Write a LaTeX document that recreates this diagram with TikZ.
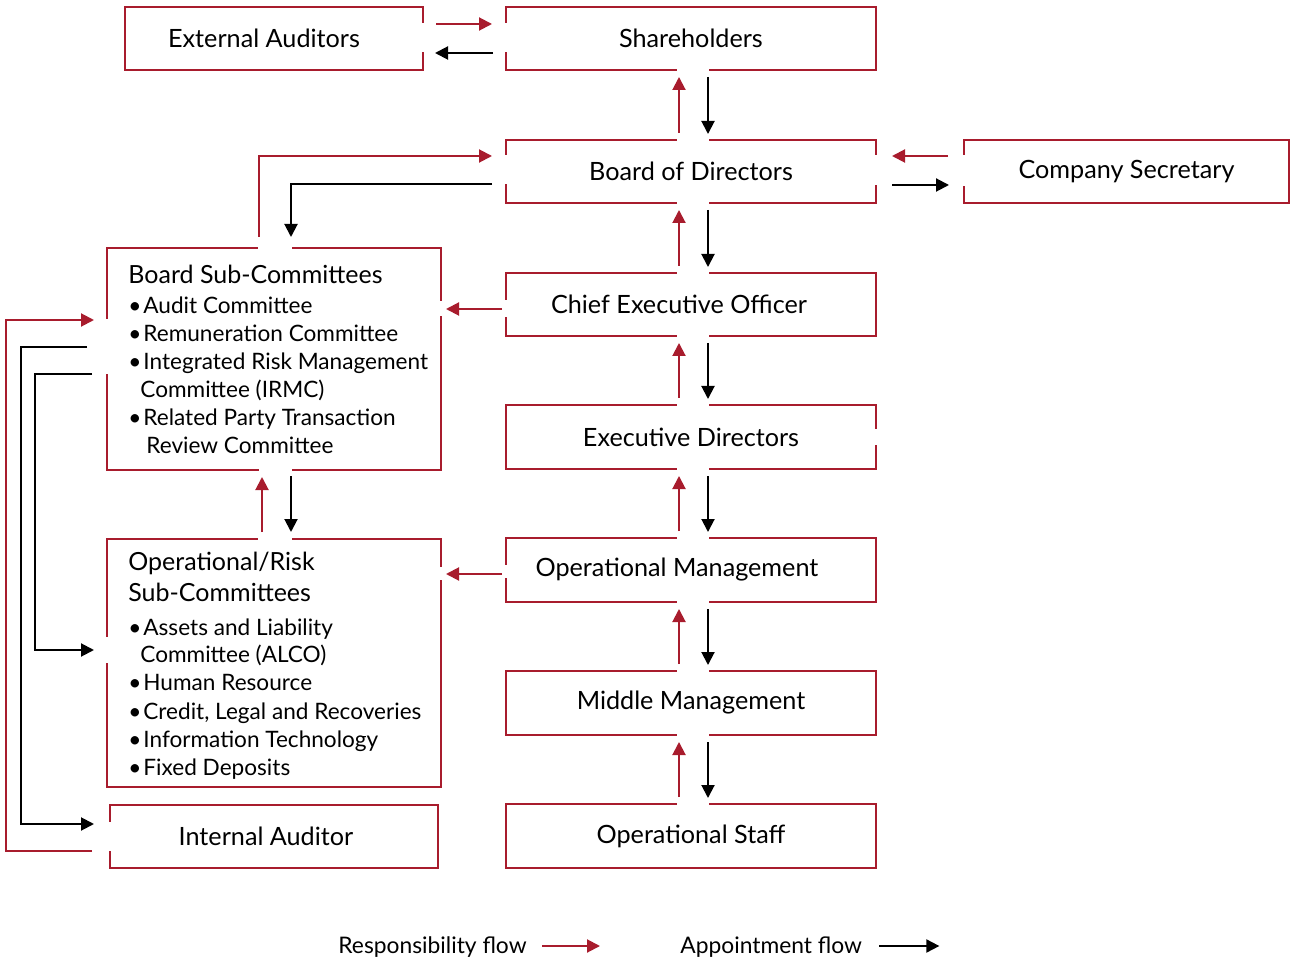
\documentclass[tikz,border=0pt]{standalone}
\usepackage{fontspec}
\setmainfont{Lato}
\usetikzlibrary{arrows.meta,calc}
\definecolor{rred}{RGB}{168,28,45}
\newcommand\mybullet{\makebox[7.5pt][l]{•}}
\begin{document}
\begin{tikzpicture}[x=0.5pt,y=-0.5pt,
  lab/.style={font=\fontsize{12.6}{14}\selectfont, inner sep=0pt},
  lst/.style={font=\fontsize{11.3}{14}\selectfont, inner sep=0pt, anchor=base west},
  ttl/.style={font=\fontsize{12.5}{14}\selectfont, inner sep=0pt, anchor=base west},
  box/.style={draw=rred, line width=1pt, inner sep=0pt, font=\fontsize{12.6}{14}\selectfont, text=black},
  resp/.style={draw=rred, line width=1pt, -{Triangle[length=6.5pt,width=6.5pt]}},
  appt/.style={draw=black, line width=1pt, -{Triangle[length=6.5pt,width=6.5pt]}},
  leg/.style={inner sep=0pt, font=\fontsize{11.4}{13}\selectfont},
  gap/.style={fill=white}]
\useasboundingbox (0,0) rectangle (1290,962);
% boxes
\node[box, minimum width=149pt, minimum height=31.5pt, label={[lab, xshift=-5pt]center:External Auditors}] (ext) at (274,38.5) {};
\node[box, minimum width=185pt, minimum height=31.5pt] (sh) at (691,38.5) {Shareholders};
\node[box, minimum width=185pt, minimum height=31.5pt] (bod) at (691,171.5) {Board of Directors};
\node[box, minimum width=162.5pt, minimum height=31.5pt] (cs) at (1126.5,171.5) {Company Secretary};
\node[box, minimum width=185pt, minimum height=31.5pt, label={[lab, xshift=-6pt]center:Chief Executive Officer}] (ceo) at (691,304.5) {};
\node[box, minimum width=185pt, minimum height=32pt] (ed) at (691,437) {Executive Directors};
\node[box, minimum width=185pt, minimum height=32pt, label={[lab, xshift=-7pt]center:Operational Management}] (om) at (691,570) {};
\node[box, minimum width=185pt, minimum height=32pt] (mm) at (691,703) {Middle Management};
\node[box, minimum width=185pt, minimum height=32pt] (os) at (691,836) {Operational Staff};
\node[box, minimum width=167pt, minimum height=111pt] (bsc) at (274,359) {};
\node[box, minimum width=167pt, minimum height=124pt] (ors) at (274,663) {};
\node[box, minimum width=164pt, minimum height=31.5pt, label={[lab, xshift=-4pt]center:Internal Auditor}] (ia) at (274,836) {};
% list texts
\node[ttl] (b1) at (128,284) {Board Sub-Committees};
\node[lst] (b2) at (128,313.3) {\mybullet Audit Committee};
\node[lst] (b3) at (128,341.5) {\mybullet Remuneration Committee};
\node[lst] (b4) at (128,369.5) {\mybullet Integrated Risk Management};
\node[lst] (b5) at (140,397.5) {Committee (IRMC)};
\node[lst] (b6) at (128,425.5) {\mybullet Related Party Transaction};
\node[lst] (b7) at (146,453.5) {Review Committee};
\node[ttl] (o1) at (128,570.7) {Operational/Risk};
\node[ttl] (o2) at (128,601) {Sub-Committees};
\node[lst] (o3) at (128,635) {\mybullet Assets and Liability};
\node[lst] (o4) at (140,662.7) {Committee (ALCO)};
\node[lst] (o5) at (128,690.7) {\mybullet Human Resource};
\node[lst] (o6) at (128,719) {\mybullet Credit, Legal and Recoveries};
\node[lst] (o7) at (128,747.7) {\mybullet Information Technology};
\node[lst] (o8) at (128,775.7) {\mybullet Fixed Deposits};
% gaps in borders
\foreach \n in {bod,ceo,ed,om,mm,os}
  \fill[gap] ($(\n.north)+(-14.5,-3)$) rectangle ($(\n.north)+(17.5,3)$);
\foreach \n in {sh,bod,ceo,ed,om,mm}
  \fill[gap] ($(\n.south)+(-14.5,-3)$) rectangle ($(\n.south)+(17.5,3)$);
\fill[gap] (420,23) rectangle (426,52);
\fill[gap] (503,23) rectangle (509,52);
\fill[gap] (503,155) rectangle (509,184.5);
\fill[gap] (873,155) rectangle (879,185);
\fill[gap] (961,155) rectangle (967,186);
\fill[gap] (503,300) rectangle (509,317);
\fill[gap] (873,429) rectangle (879,445);
\fill[gap] (503,565) rectangle (509,578);
\fill[gap] (258,245) rectangle (291.5,251);
\fill[gap] (259,467) rectangle (291.5,473);
\fill[gap] (438,301) rectangle (444,316);
\fill[gap] (104,319) rectangle (110,374);
\fill[gap] (258,536) rectangle (291.5,542);
\fill[gap] (438,567) rectangle (444,580);
\fill[gap] (104,637) rectangle (110,663);
\fill[gap] (107,822) rectangle (113,851);
% central vertical arrows
\foreach \u/\l in {sh/bod, bod/ceo, ceo/ed, ed/om, om/mm, mm/os}{
  \draw[resp] ($(\l.north)+(-12,-6)$) -- ($(\u.south)+(-12,6)$);
  \draw[appt] ($(\u.south)+(17,6)$) -- ($(\l.north)+(17,-5)$);
}
% horizontal arrows
\draw[resp] ($(ext.east)+(12,-14.5)$) -- ($(sh.west)+(-13,-14.5)$);
\draw[appt] ($(sh.west)+(-12,14.5)$) -- ($(ext.east)+(11,14.5)$);
\draw[resp] ($(cs.west)+(-15,-15.5)$) -- ($(bod.east)+(15,-15.5)$);
\draw[appt] ($(bod.east)+(15,13.5)$) -- ($(cs.west)+(-14,13.5)$);
\draw[resp] ($(bsc.north)+(-15,-10)$) |- ($(bod.west)+(-13,-15.5)$);
\draw[appt] ($(bod.west)+(-13,12.5)$) -| ($(bsc.north)+(17,-10)$);
\draw[resp] ($(ceo.west)+(-3,4.5)$) -- ($(bsc.east)+(4,-50)$);
\draw[resp] ($(om.west)+(-3,4)$) -- ($(ors.east)+(4,-89)$);
\draw[resp] ($(ors.north)+(-12,-6)$) -- ($(bsc.south)+(-12,6)$);
\draw[appt] ($(bsc.south)+(17,5)$) -- ($(ors.north)+(17,-6)$);
\draw[resp] ($(ia.west)+(-17,15)$) -- ($(ia.west)+(-103,15)$) |- ($(bsc.west)+(-12,-39)$);
\draw[appt] ($(bsc.west)+(-19,-12)$) -- ($(bsc.west)+(-85,-12)$) |- ($(ia.west)+(-15,-12)$);
\draw[appt] ($(bsc.west)+(-14,15)$) -- ($(bsc.west)+(-71,15)$) |- ($(ors.west)+(-12,-13)$);
% legend
\node[leg, anchor=base east] (lg1) at (527,953) {Responsibility flow};
\node[leg, anchor=base west] (lg2) at (680,953) {Appointment flow};
\draw[resp] ($(lg1.base east)+(15,-7)$) -- ++(58,0);
\draw[appt] ($(lg2.base east)+(17,-7)$) -- ++(60,0);
\end{tikzpicture}
\end{document}
